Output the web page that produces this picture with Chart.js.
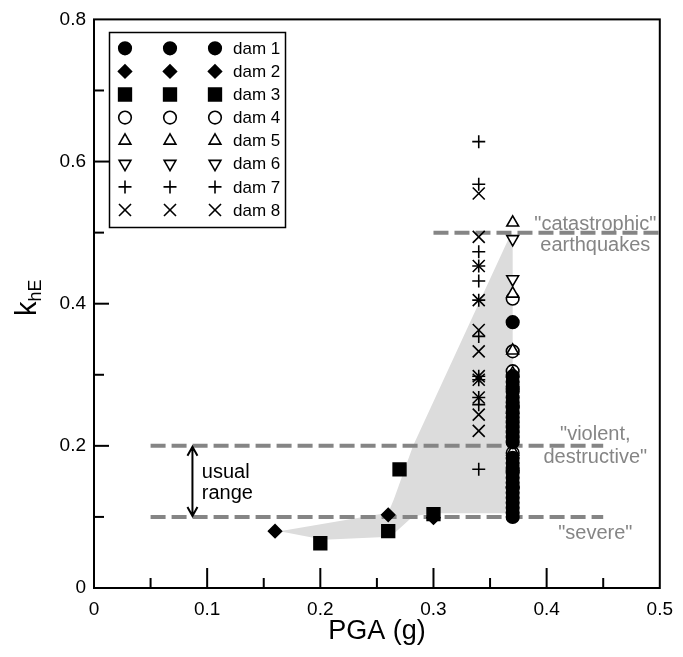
<!DOCTYPE html>
<html>
<head>
<meta charset="utf-8">
<script src="https://cdn.jsdelivr.net/npm/chart.js@4.4.1/dist/chart.umd.min.js"></script>
<style>body{margin:0;background:#fff}</style>
</head>
<body>
<canvas id="c" width="683" height="657"></canvas>
<script>
// axes
const xTicks = [0, 0.1, 0.2, 0.3, 0.4, 0.5];
const xTickLabels = ['0', '0.1', '0.2', '0.3', '0.4', '0.5'];
const yTicks = [0, 0.2, 0.4, 0.6, 0.8];
const yTickLabels = ['0', '0.2', '0.4', '0.6', '0.8'];
const xMarks = [0.05, 0.1, 0.15, 0.2, 0.25, 0.3, 0.35, 0.4, 0.45];
const yMarks = [0.1, 0.2, 0.3, 0.4, 0.5, 0.6, 0.7];

// data, [PGA, khE]
const dam1 = [[0.37,0.374],[0.37,0.298],[0.37,0.29],[0.37,0.283],[0.37,0.276],[0.37,0.268],[0.37,0.261],
  [0.37,0.254],[0.37,0.247],[0.37,0.24],[0.37,0.233],[0.37,0.226],[0.37,0.219],[0.37,0.212],[0.37,0.205],
  [0.37,0.183],[0.37,0.176],[0.37,0.169],[0.37,0.162],[0.37,0.155],[0.37,0.148],[0.37,0.141],[0.37,0.134],
  [0.37,0.127],[0.37,0.12],[0.37,0.113],[0.37,0.106],[0.37,0.1]];
const dam2 = [[0.16,0.08],[0.26,0.103],[0.3,0.099]];
const dam3 = [[0.2,0.063],[0.26,0.08],[0.27,0.167],[0.3,0.104]];
const dam4 = [[0.37,0.407],[0.37,0.333],[0.37,0.305],[0.37,0.28],[0.37,0.256],[0.37,0.19],[0.37,0.165],[0.37,0.142]];
const dam5 = [[0.37,0.514],[0.37,0.414],[0.37,0.334],[0.37,0.302],[0.37,0.192]];
const dam6 = [[0.37,0.491],[0.37,0.4345],[0.37,0.24]];
const dam7 = [[0.34,0.628],[0.34,0.568],[0.34,0.473],[0.34,0.453],[0.34,0.432],[0.34,0.405],[0.34,0.354],
  [0.34,0.298],[0.34,0.293],[0.34,0.268],[0.34,0.258],[0.34,0.167]];
const dam8 = [[0.34,0.555],[0.34,0.494],[0.34,0.453],[0.34,0.405],[0.34,0.363],[0.34,0.333],[0.34,0.298],
  [0.34,0.293],[0.34,0.268],[0.34,0.244],[0.34,0.221]];
const damData = [dam1, dam2, dam3, dam4, dam5, dam6, dam7, dam8];
const damNames = ['dam 1', 'dam 2', 'dam 3', 'dam 4', 'dam 5', 'dam 6', 'dam 7', 'dam 8'];

// shaded envelope
const shadeX = [0.164, 0.26, 0.265, 0.282, 0.368, 0.37, 0.37, 0.3, 0.282, 0.262, 0.203, 0.164];
const shadeY = [0.08, 0.106, 0.125, 0.2, 0.497, 0.497, 0.105, 0.105, 0.101, 0.072, 0.068, 0.08];

// intensity levels
const levelY = [0.1, 0.2, 0.5];
const levelFrom = [0.05, 0.05, 0.3];
const levelTo = [0.45, 0.45, 0.5];
const levelText = [['"severe"'], ['"violent,', 'destructive"'], ['"catastrophic"', 'earthquakes']];
const levelTextY = [[0.0765], [0.2164, 0.1836], [0.512, 0.482]];

// marker looks
const styles = ['circle', 'rectRot', 'rect', 'circle', 'triangle', 'triangle', 'cross', 'crossRot'];
const filled = [true, true, true, false, false, false, false, false];
const radii = [6.3, 6.5, 9, 6.3, 6.8, 6.8, 6.5, 8.5];
const rots = [0, 0, 0, 0, 0, 180, 0, 0];
// drawing order (lower = on top): filled circles cover the open ones in the dense column
const drawOrder = [1, 2, 3, 6, 5, 4, 7, 8];

const FONT = '"Liberation Sans", Arial, sans-serif';
const GREY = '#858585';

const datasets = [];
datasets.push({
  data: shadeX.map((x, i) => ({x: x, y: shadeY[i]})),
  showLine: true, fill: 'shape', backgroundColor: 'rgb(220,220,220)',
  borderWidth: 0, borderColor: 'rgba(0,0,0,0)', pointRadius: 0, order: 100
});
levelY.forEach((y, i) => {
  datasets.push({
    data: [{x: levelFrom[i], y: y}, {x: levelTo[i], y: y}],
    showLine: true, borderColor: GREY, borderWidth: 4, borderDash: [15, 6],
    pointRadius: 0, fill: false, order: 50
  });
});
damData.forEach((d, i) => {
  datasets.push({
    label: damNames[i],
    data: d.map(p => ({x: p[0], y: p[1]})),
    pointStyle: styles[i], pointRadius: radii[i], pointRotation: rots[i],
    backgroundColor: filled[i] ? '#000' : '#fff', borderColor: '#000',
    pointBorderWidth: 1.6, order: drawOrder[i]
  });
});

function marker(ctx, i, x, y) {
  ctx.save();
  ctx.fillStyle = filled[i] ? '#000' : '#fff';
  ctx.strokeStyle = '#000';
  ctx.lineWidth = 1.6;
  Chart.helpers.drawPoint(ctx, {pointStyle: styles[i], radius: radii[i], rotation: rots[i], borderWidth: 1.6}, x, y);
  ctx.restore();
}

const extras = {
  id: 'extras',
  afterDatasetsDraw(chart) {
    const ctx = chart.ctx, xs = chart.scales.x, ys = chart.scales.y, a = chart.chartArea;
    ctx.save();
    // frame and inward ticks
    ctx.strokeStyle = '#000';
    ctx.lineWidth = 2;
    ctx.strokeRect(a.left, a.top, a.right - a.left, a.bottom - a.top);
    xMarks.forEach(v => {
      const px = xs.getPixelForValue(v);
      const major = Math.abs(v * 10 - Math.round(v * 10)) < 1e-6;
      ctx.beginPath(); ctx.moveTo(px, a.bottom); ctx.lineTo(px, a.bottom - (major ? 20 : 10)); ctx.stroke();
    });
    yMarks.forEach(v => {
      const py = ys.getPixelForValue(v);
      const major = Math.abs(v * 5 - Math.round(v * 5)) < 1e-6;
      ctx.beginPath(); ctx.moveTo(a.left, py); ctx.lineTo(a.left + (major ? 15 : 10), py); ctx.stroke();
    });

    // level labels
    ctx.fillStyle = GREY;
    ctx.font = '20px ' + FONT;
    ctx.textAlign = 'center';
    ctx.textBaseline = 'middle';
    levelText.forEach((lines, i) => {
      lines.forEach((t, j) => ctx.fillText(t, xs.getPixelForValue(0.443), ys.getPixelForValue(levelTextY[i][j])));
    });

    // usual range arrow
    const ax = xs.getPixelForValue(0.087), y1 = ys.getPixelForValue(0.2), y2 = ys.getPixelForValue(0.1);
    ctx.strokeStyle = '#000';
    ctx.lineWidth = 2;
    ctx.beginPath();
    ctx.moveTo(ax, y1 + 1); ctx.lineTo(ax, y2 - 1);
    ctx.moveTo(ax - 5, y1 + 10); ctx.lineTo(ax, y1 + 1); ctx.lineTo(ax + 5, y1 + 10);
    ctx.moveTo(ax - 5, y2 - 10); ctx.lineTo(ax, y2 - 1); ctx.lineTo(ax + 5, y2 - 10);
    ctx.stroke();
    ctx.fillStyle = '#000';
    ctx.textAlign = 'left';
    ctx.fillText('usual', xs.getPixelForValue(0.0953), ys.getPixelForValue(0.1627));
    ctx.fillText('range', xs.getPixelForValue(0.0953), ys.getPixelForValue(0.1329));

    // legend
    ctx.lineWidth = 1.5;
    ctx.strokeRect(109.5, 32.5, 176, 195);
    ctx.font = '17px ' + FONT;
    damNames.forEach((n, i) => {
      const ry = 48.3 + i * 23.1;
      [125, 170, 215].forEach(cx => marker(ctx, i, cx, ry));
      ctx.fillStyle = '#000';
      ctx.textAlign = 'left';
      ctx.fillText(n, 233, ry + 1);
    });

    // axis titles
    ctx.textAlign = 'center';
    ctx.font = '27px ' + FONT;
    ctx.fillText('PGA (g)', (a.left + a.right) / 2, 632);
    ctx.translate(36, 316);
    ctx.rotate(-Math.PI / 2);
    ctx.textAlign = 'left';
    ctx.textBaseline = 'alphabetic';
    ctx.font = '29px ' + FONT;
    ctx.fillText('k', 0, 0);
    const kw = ctx.measureText('k').width;
    ctx.font = '18px ' + FONT;
    ctx.fillText('hE', kw, 5);
    ctx.restore();
  }
};

new Chart(document.getElementById('c'), {
  type: 'scatter',
  data: {datasets: datasets},
  options: {
    responsive: false,
    animation: false,
    events: [],
    layout: {padding: {top: 16, right: 17, left: 0, bottom: 0}},
    plugins: {legend: {display: false}, tooltip: {enabled: false}},
    scales: {
      x: {
        type: 'linear', min: 0, max: 0.5,
        afterBuildTicks: s => { s.ticks = xTicks.map(v => ({value: v})); },
        afterFit: s => { s.height = 69; },
        grid: {display: false, drawTicks: false},
        border: {display: false},
        ticks: {color: '#000', padding: 10, font: {family: FONT, size: 19}, maxRotation: 0,
          callback: (v, i) => xTickLabels[i]}
      },
      y: {
        type: 'linear', min: 0, max: 0.8,
        afterBuildTicks: s => { s.ticks = yTicks.map(v => ({value: v})); },
        afterFit: s => { s.width = 94; },
        grid: {display: false, drawTicks: false},
        border: {display: false},
        ticks: {color: '#000', padding: 8, font: {family: FONT, size: 19},
          callback: (v, i) => yTickLabels[i]}
      }
    }
  },
  plugins: [extras]
});
</script>
</body>
</html>
